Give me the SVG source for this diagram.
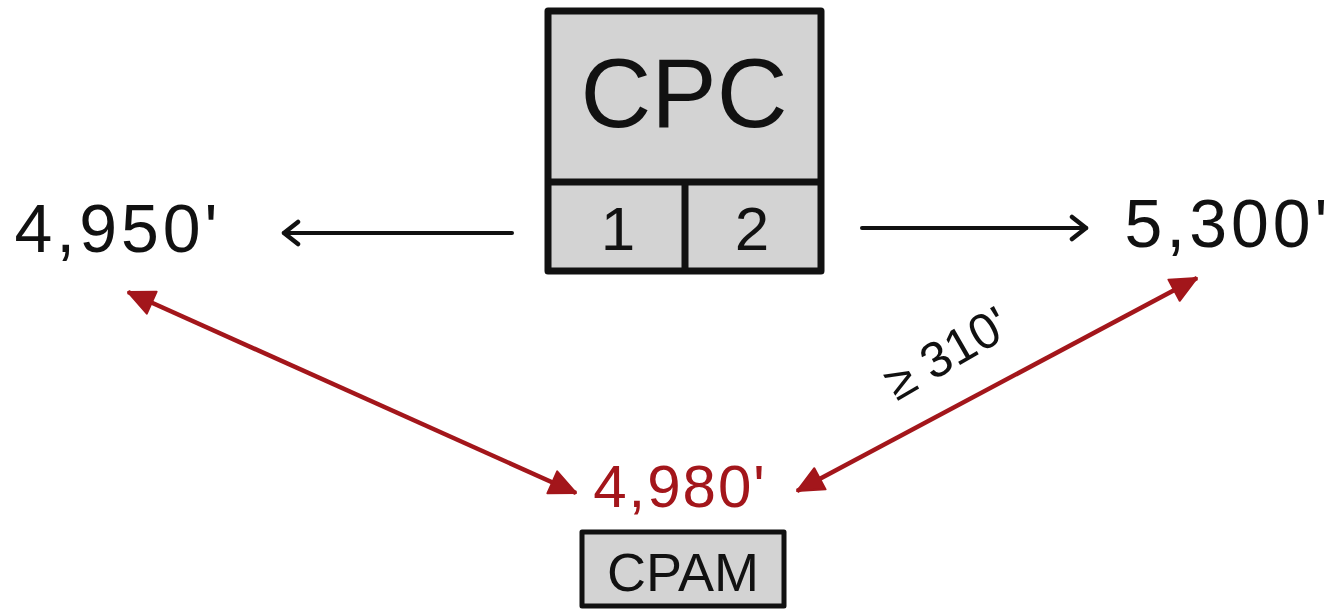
<svg xmlns="http://www.w3.org/2000/svg" width="1339" height="613" viewBox="0 0 1339 613">
<defs>
<style>
.box{fill:#d3d3d3;stroke:#111;stroke-linejoin:round}
.t{font-family:"Liberation Sans","DejaVu Sans",sans-serif;fill:#111;text-anchor:middle}
.r{fill:#a3161b}
.bl{stroke:#111;stroke-width:4;fill:none;stroke-linecap:round}
.rl{stroke:#a3161b;stroke-width:4.5;fill:none}
</style>
<marker id="open" viewBox="0 0 28 28" refX="25" refY="14" markerWidth="28" markerHeight="28" markerUnits="userSpaceOnUse" orient="auto">
<path d="M11 3 L25 14 L11 25" fill="none" stroke="#111" stroke-width="4.5" stroke-linecap="round" stroke-linejoin="round"/>
</marker>
<marker id="red" viewBox="0 0 30 30" refX="28" refY="15" markerWidth="30" markerHeight="30" markerUnits="userSpaceOnUse" orient="auto-start-reverse">
<path d="M2 3 L28 15 L2 27 Z" fill="#a3161b" stroke="#a3161b" stroke-width="2" stroke-linejoin="round"/>
</marker>
</defs>
<rect width="1339" height="613" fill="#fff"/>
<g id="cpc">
<rect class="box" x="548" y="11" width="273" height="260" stroke-width="7"/>
<line x1="548" y1="182" x2="821" y2="182" stroke="#111" stroke-width="7"/>
<line x1="685" y1="182" x2="685" y2="271" stroke="#111" stroke-width="7"/>
<text class="t" x="684" y="127" font-size="98">CPC</text>
<text class="t" x="618" y="250" font-size="62">1</text>
<text class="t" x="752" y="250" font-size="62">2</text>
</g>
<g id="left-value">
<text class="t" x="118" y="252" font-size="68" letter-spacing="4">4,950'</text>
</g>
<g id="right-value">
<text class="t" x="1228" y="247" font-size="68" letter-spacing="4">5,300'</text>
</g>
<g id="cpam">
<text class="t r" x="680" y="507" font-size="60" letter-spacing="2">4,980'</text>
<rect class="box" x="582" y="532" width="202" height="74" stroke-width="5"/>
<text class="t" x="683" y="591" font-size="54">CPAM</text>
</g>
<g id="connectors">
<line class="bl" x1="512" y1="233" x2="284" y2="233" marker-end="url(#open)"/>
<line class="bl" x1="862" y1="228" x2="1086" y2="228" marker-end="url(#open)"/>
<line class="rl" x1="128" y1="292" x2="576" y2="493" marker-start="url(#red)" marker-end="url(#red)"/>
<line class="rl" x1="797" y1="491" x2="1197" y2="278" marker-start="url(#red)" marker-end="url(#red)"/>
<text class="t" x="955" y="368" font-size="50" transform="rotate(-30 955 368)">≥ 310'</text>
</g>
</svg>
